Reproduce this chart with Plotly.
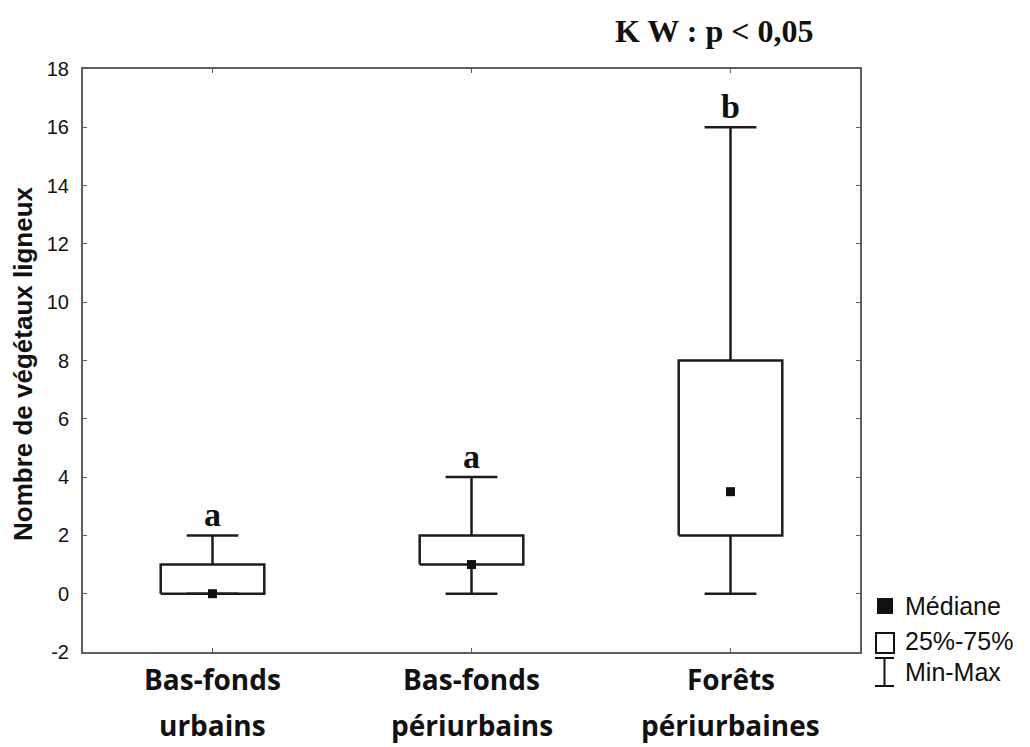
import plotly.graph_objects as go

# Nombre de végétaux ligneux par type de milieu (résumé min / Q1 / médiane / Q3 / max)
categories = ["Bas-fonds<br>urbains", "Bas-fonds<br>périurbains", "Forêts<br>périurbaines"]
minimum = [0, 0, 0]
q1 = [0, 1, 2]
median = [0, 1, 3.5]
q3 = [1, 2, 8]
maximum = [2, 4, 16]
groups = ["a", "a", "b"]

y_ticks = [-2, 0, 2, 4, 6, 8, 10, 12, 14, 16, 18]
y_tick_text = ["-2", "0", "2", "4", "6", "8", "10", "12", "14", "16", "18"]

BOX_HALF = 0.2
CAP_HALF = 0.1
LINE = dict(color="#1c1c1c", width=2.5)

W, H = 1030, 747
L, R, T, B = 83, 170, 69, 95
PW, PH = W - L - R, H - T - B


def xp(px):
    return (px - L) / PW


def yp(py):
    return (H - B - py) / PH


fig = go.Figure()

for i in range(len(categories)):
    # box Q1-Q3
    fig.add_trace(go.Scatter(
        x=[i - BOX_HALF, i + BOX_HALF, i + BOX_HALF, i - BOX_HALF, i - BOX_HALF],
        y=[q1[i], q1[i], q3[i], q3[i], q1[i]],
        mode="lines", line=LINE, showlegend=False, hoverinfo="skip"))
    # whiskers and caps
    fig.add_trace(go.Scatter(
        x=[i, i, None, i, i, None,
           i - CAP_HALF, i + CAP_HALF, None, i - CAP_HALF, i + CAP_HALF],
        y=[q3[i], maximum[i], None, minimum[i], q1[i], None,
           maximum[i], maximum[i], None, minimum[i], minimum[i]],
        mode="lines", line=LINE, showlegend=False, hoverinfo="skip"))

# medians
fig.add_trace(go.Scatter(
    x=list(range(len(categories))), y=median, mode="markers",
    marker=dict(symbol="square", size=9, color="#111111"),
    showlegend=False, hoverinfo="skip"))

# group letters above the maxima
for i, g in enumerate(groups):
    fig.add_annotation(x=i, y=maximum[i], text="<b>%s</b>" % g, showarrow=False,
                       yanchor="bottom", yshift=0,
                       font=dict(family="Liberation Serif", size=34, color="#111111"),
                       xref="x", yref="y")

# category labels (two lines each)
for i, c in enumerate(categories):
    for k, part in enumerate(c.split("<br>")):
        fig.add_annotation(x=i, y=yp(679 + 46 * k), text="<b>%s</b>" % part,
                           showarrow=False, xref="x", yref="paper",
                           yanchor="middle", xanchor="center",
                           font=dict(family="Open Sans", size=28, color="#111111"))

# y-axis title
fig.add_annotation(x=xp(23), y=yp(364), xref="paper", yref="paper",
                   text="<b>Nombre de végétaux ligneux</b>", textangle=-90,
                   showarrow=False, xanchor="center", yanchor="middle",
                   font=dict(family="Liberation Sans", size=26, color="#111111"))

# test statistic
fig.add_annotation(x=xp(714), y=yp(31), xref="paper", yref="paper",
                   text="<b>K W : p &lt; 0,05</b>", showarrow=False,
                   xanchor="center", yanchor="middle",
                   font=dict(family="Liberation Serif", size=32, color="#111111"))

# key
key_font = dict(family="Liberation Sans", size=25, color="#111111")
shapes = [
    dict(type="rect", xref="paper", yref="paper",
         x0=xp(877), x1=xp(893), y0=yp(614), y1=yp(598),
         fillcolor="#111111", line=dict(width=0)),
    dict(type="rect", xref="paper", yref="paper",
         x0=xp(876), x1=xp(894), y0=yp(653), y1=yp(633),
         fillcolor="white", line=dict(color="#111111", width=2)),
    dict(type="line", xref="paper", yref="paper",
         x0=xp(875), x1=xp(894), y0=yp(658), y1=yp(658),
         line=dict(color="#111111", width=2)),
    dict(type="line", xref="paper", yref="paper",
         x0=xp(884.5), x1=xp(884.5), y0=yp(658), y1=yp(686),
         line=dict(color="#111111", width=2)),
    dict(type="line", xref="paper", yref="paper",
         x0=xp(875), x1=xp(894), y0=yp(686), y1=yp(686),
         line=dict(color="#111111", width=2)),
]
for txt, cy in [("Médiane", 606), ("25%-75%", 641), ("Min-Max", 672)]:
    fig.add_annotation(x=xp(903), y=yp(cy), xref="paper", yref="paper",
                       text=txt, showarrow=False, xanchor="left", yanchor="middle",
                       font=key_font)

axis_common = dict(showline=True, linecolor="#5e5e5e", linewidth=2, mirror="ticks",
                   ticks="inside", ticklen=4, tickcolor="#5e5e5e", tickwidth=1,
                   showgrid=False, zeroline=False)

fig.update_layout(
    width=W, height=H,
    margin=dict(l=L, r=R, t=T, b=B),
    paper_bgcolor="white", plot_bgcolor="white",
    shapes=shapes,
    xaxis=dict(range=[-0.5, 2.5], tickvals=[0, 1, 2], showticklabels=False,
               **axis_common),
    yaxis=dict(range=[-2, 18], tickvals=y_ticks, ticktext=y_tick_text,
               ticklabelstandoff=8,
               tickfont=dict(family="Liberation Sans", size=20, color="#111111"),
               **axis_common),
)

fig.write_html("out.html")
